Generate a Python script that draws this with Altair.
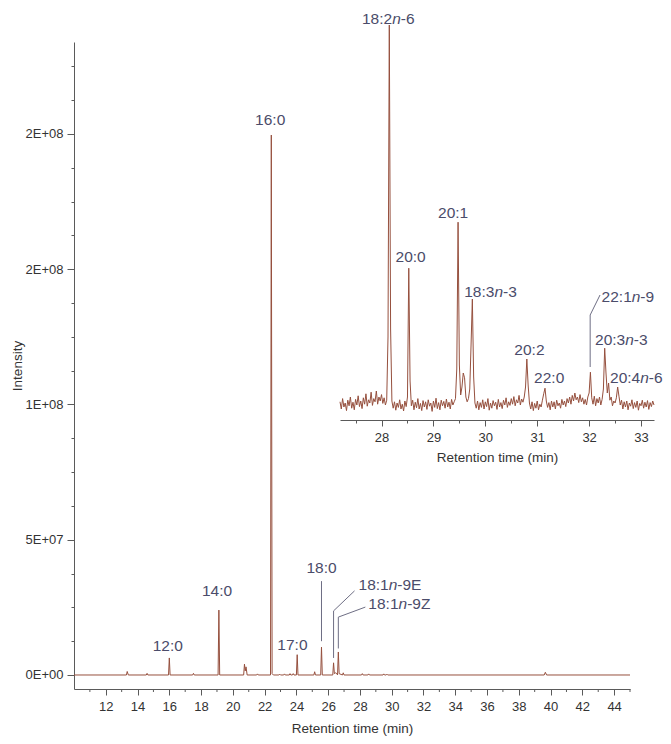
import altair as alt
import pandas as pd

# ---------------- data ----------------
# main chromatogram trace (retention time in min, intensity in counts)
main_time = [10.00,
             13.30, 13.35, 13.42,
             14.55, 14.60, 14.65,
             15.95, 16.00, 16.05,
             17.47, 17.52, 17.57,
             19.07, 19.12, 19.17,
             20.68, 20.73, 20.78, 20.83, 20.90,
             21.50, 21.55, 21.60,
             22.37, 22.42, 22.47, 22.55,
             22.90, 22.95, 23.00, 23.20, 23.25, 23.30,
             23.55, 23.60, 23.65, 23.75, 23.80, 23.85,
             24.00, 24.05, 24.10,
             25.10, 25.15, 25.20,
             25.53, 25.58, 25.63,
             26.29, 26.34, 26.39, 26.45, 26.55,
             26.59, 26.64, 26.69,
             26.90, 26.95, 27.00,
             28.10, 28.15, 28.20,
             28.50, 28.55, 28.60,
             29.45, 29.50, 29.55, 29.65, 29.70, 29.75,
             39.60, 39.67, 39.75,
             45.00]
main_intensity = [0,
                  0, 1.3e6, 0,
                  0, 0.6e6, 0,
                  0, 6.3e6, 0,
                  0, 0.6e6, 0,
                  0, 24.0e6, 0,
                  0, 4.0e6, 1.5e6, 3.0e6, 0,
                  0, 0.4e6, 0,
                  0, 199.6e6, 0.5e6, 0,
                  0, 0.3e6, 0, 0, 0.4e6, 0,
                  0, 0.5e6, 0, 0, 0.5e6, 0,
                  0, 7.5e6, 0,
                  0, 1.2e6, 0,
                  0, 10.3e6, 0,
                  0, 4.5e6, 0.5e6, 0.8e6, 0.5e6,
                  0, 8.5e6, 0.5e6,
                  0, 0.8e6, 0,
                  0, 0.5e6, 0,
                  0, 0.4e6, 0,
                  0, 0.4e6, 0, 0, 0.3e6, 0,
                  0, 1.0e6, 0,
                  0]

# inset trace (retention time in min, intensity in thousand counts)
inset_time = [27.200, 27.225, 27.250, 27.275, 27.300, 27.325, 27.350, 27.375, 27.400, 27.425,
              27.450, 27.475, 27.500, 27.525, 27.550, 27.575, 27.600, 27.625, 27.650, 27.675,
              27.700, 27.725, 27.750, 27.775, 27.800, 27.825, 27.850, 27.875, 27.900, 27.925,
              27.950, 27.975, 28.000, 28.025, 28.050, 28.075, 28.100, 28.125, 28.150, 28.175,
              28.200, 28.225, 28.250, 28.275, 28.300, 28.325, 28.350, 28.375, 28.400, 28.425,
              28.450, 28.475, 28.500, 28.525, 28.550, 28.575, 28.600, 28.625, 28.650, 28.675,
              28.700, 28.725, 28.750, 28.775, 28.800, 28.825, 28.850, 28.875, 28.900, 28.925,
              28.950, 28.975, 29.000, 29.025, 29.050, 29.075, 29.100, 29.125, 29.150, 29.175,
              29.200, 29.225, 29.250, 29.275, 29.300, 29.325, 29.350, 29.375, 29.400, 29.425,
              29.450, 29.475, 29.500, 29.525, 29.550, 29.575, 29.600, 29.625, 29.650, 29.675,
              29.700, 29.725, 29.750, 29.775, 29.800, 29.825, 29.850, 29.875, 29.900, 29.925,
              29.950, 29.975, 30.000, 30.025, 30.050, 30.075, 30.100, 30.125, 30.150, 30.175,
              30.200, 30.225, 30.250, 30.275, 30.300, 30.325, 30.350, 30.375, 30.400, 30.425,
              30.450, 30.475, 30.500, 30.525, 30.550, 30.575, 30.600, 30.625, 30.650, 30.675,
              30.700, 30.725, 30.750, 30.775, 30.800, 30.825, 30.850, 30.875, 30.900, 30.925,
              30.950, 30.975, 31.000, 31.025, 31.050, 31.075, 31.100, 31.125, 31.150, 31.175,
              31.200, 31.225, 31.250, 31.275, 31.300, 31.325, 31.350, 31.375, 31.400, 31.425,
              31.450, 31.475, 31.500, 31.525, 31.550, 31.575, 31.600, 31.625, 31.650, 31.675,
              31.700, 31.725, 31.750, 31.775, 31.800, 31.825, 31.850, 31.875, 31.900, 31.925,
              31.950, 31.975, 32.000, 32.025, 32.050, 32.075, 32.100, 32.125, 32.150, 32.175,
              32.200, 32.225, 32.250, 32.275, 32.300, 32.325, 32.350, 32.375, 32.400, 32.425,
              32.450, 32.475, 32.500, 32.525, 32.550, 32.575, 32.600, 32.625, 32.650, 32.675,
              32.700, 32.725, 32.750, 32.775, 32.800, 32.825, 32.850, 32.875, 32.900, 32.925,
              32.950, 32.975, 33.000, 33.025, 33.050, 33.075, 33.100, 33.125, 33.150, 33.175,
              33.200, 33.225, 33.250]
inset_kcounts = [58, 40, 66, 45, 55, 36, 62, 48, 70, 42,
                 57, 38, 64, 50, 73, 46, 60, 41, 68, 52,
                 78, 47, 63, 55, 82, 49, 66, 58, 85, 52,
                 70, 60, 76, 54, 68, 50, 62, 220, 1000, 240,
                 60, 42, 58, 37, 55, 44, 63, 40, 52, 35,
                 60, 46, 70, 392, 110, 48, 62, 38, 57, 43,
                 66, 40, 54, 36, 61, 45, 58, 39, 63, 47,
                 55, 34, 60, 44, 67, 41, 56, 38, 62, 48,
                 59, 42, 65, 45, 57, 40, 64, 50, 58, 66,
                 140, 507, 150, 75, 95, 130, 118, 70, 58, 66,
                 90, 200, 315, 120, 55, 42, 60, 38, 56, 44,
                 63, 40, 58, 46, 66, 37, 55, 42, 61, 48,
                 57, 39, 64, 45, 56, 41, 62, 50, 68, 44,
                 58, 49, 66, 52, 71, 48, 63, 55, 74, 50,
                 65, 57, 70, 95, 165, 100, 55, 40, 58, 36,
                 54, 42, 60, 38, 52, 45, 62, 78, 92, 60,
                 44, 56, 38, 60, 45, 58, 40, 62, 48, 55,
                 42, 64, 50, 60, 46, 66, 55, 70, 52, 74,
                 60, 80, 63, 70, 56, 76, 58, 68, 52, 64,
                 50, 70, 80, 132, 68, 52, 72, 48, 66, 55,
                 70, 50, 64, 90, 192, 130, 80, 105, 62, 70,
                 48, 60, 55, 68, 95, 72, 50, 62, 40, 58,
                 45, 60, 38, 55, 47, 63, 41, 56, 44, 60,
                 37, 54, 48, 62, 42, 57, 45, 61, 39, 56,
                 46, 60, 50]

# peak labels, main chart
main_label_text = ["12:0", "14:0", "16:0", "17:0", "18:0", "18:1n-9E", "18:1n-9Z"]
main_label_time = [15.9, 19.0, 22.35, 23.75, 25.58, 27.91, 28.53]
main_label_int = [10.7e6, 31.1e6, 205.2e6, 11.1e6, 39.6e6, 33.3e6, 26.2e6]
main_label_align = ["center", "center", "center", "center", "center", "left", "left"]

# leader lines, main chart (segments)
main_leader_t1 = [25.58, 26.34, 26.34, 26.64, 26.64]
main_leader_v1 = [12.5e6, 6.3e6, 23.7e6, 9.8e6, 21.4e6]
main_leader_t2 = [25.58, 26.34, 27.66, 26.64, 28.34]
main_leader_v2 = [34.7e6, 23.7e6, 31.1e6, 21.4e6, 25.1e6]

# peak labels, inset
inset_label_text = ["18:2n-6", "20:0", "20:1", "18:3n-3", "20:2", "22:0",
                    "22:1n-9", "20:3n-3", "20:4n-6"]
inset_label_time = [28.13, 28.56, 29.38, 30.10, 30.85, 31.23, 32.24, 32.62, 32.91]
inset_label_k = [1015, 420, 530, 332.5, 187.5, 117.5, 320, 212.5, 117.5]
inset_label_align = ["center", "center", "center", "center", "center", "center",
                     "left", "center", "center"]

# leader line, inset (segments)
inset_leader_t1 = [32.02, 32.02]
inset_leader_k1 = [145, 275]
inset_leader_t2 = [32.02, 32.21]
inset_leader_k2 = [275, 325]

# axis ticks
y_tick_values = [0, 5e7, 1e8, 1.5e8, 2e8]
y_tick_labels = ["0E+00", "5E+07", "1E+08", "2E+08", "2E+08"]
x_tick_labels = [12, 14, 16, 18, 20, 22, 24, 26, 28, 30, 32, 34, 36, 38, 40, 42, 44]
x_minor_ticks = [11, 13, 15, 17, 19, 21, 23, 25, 27, 29, 31, 33, 35, 37, 39, 41, 43, 45]
inset_tick_labels = [28, 29, 30, 31, 32, 33]

# ---------------- styling ----------------
FONT = "Liberation Sans"
LINE = "#96503e"
ANN = "#4b4c6a"
LEAD = "#6e6e84"
AXC = "#5a5a5a"
FS = 15.5
W, H = 556, 647
TOP = 34

CW = {c: 0.556 for c in "0123456789"}
CW.update({":": 0.278, "-": 0.333, "n": 0.556, "E": 0.667, "Z": 0.611})


def tw(s):
    return sum(CW[c] for c in s) * FS


def expr_for(values, labels):
    return "".join(
        f"abs(datum.value - {v}) < 1e-6 * (1 + abs({v})) ? '{l}' : "
        for v, l in zip(values, labels)) + "''"


# ---------------- shared encodings ----------------
main_x = lambda f="t": alt.X(
    f"{f}:Q", title="Retention time (min)",
    scale=alt.Scale(domain=[10, 45], nice=False, zero=False),
    axis=alt.Axis(values=x_tick_labels, format="d", tickSize=6,
                  labelOverlap=False, labelFlush=False,
                  labelPadding=5, titlePadding=8, grid=False))
main_y = lambda f="v": alt.Y(
    f"{f}:Q", title="Intensity",
    scale=alt.Scale(domain=[-5.18e6, 234e6], nice=False, zero=False),
    axis=alt.Axis(values=[i * 12.5e6 for i in range(19)],
                  labelExpr=expr_for(y_tick_values, y_tick_labels),
                  tickSize={"condition": {"test": "datum.value % 50000000 == 0",
                                          "value": 7}, "value": 3},
                  labelOverlap=False, labelFlush=False,
                  labelPadding=4, titlePadding=1, grid=False))
inset_axis_y = 420 - 8 - TOP  # plot-relative position of the inset axis
inset_x = lambda f="t": alt.X(
    f"{f}:Q", title="Retention time (min)",
    scale=alt.Scale(domain=[27.2, 33.25], range=[266, 580], nice=False, zero=False),
    axis=alt.Axis(values=[27.5 + 0.5 * i for i in range(12)],
                  labelExpr=expr_for(inset_tick_labels, [str(v) for v in inset_tick_labels]),
                  tickSize={"condition": {"test": "datum.value % 1 == 0", "value": 6},
                            "value": 3},
                  orient="bottom", offset=inset_axis_y - H,
                  labelOverlap=False, labelFlush=False,
                  labelPadding=5, titlePadding=6, grid=False))
inset_y = lambda f="v": alt.Y(
    f"{f}:Q", scale=alt.Scale(domain=[0, 1000], range=[425 - 8 - TOP, 25 - 8 - TOP],
                              nice=False, zero=False),
    axis=None)


def label_layers(texts, times, vals, aligns, xe, ye):
    layers = []
    for txt, t, v, al in zip(texts, times, vals, aligns):
        df = pd.DataFrame({"t": [t], "v": [v]})
        base = alt.Chart(df).encode(x=xe(), y=ye())
        if "n-" in txt:
            i = txt.index("n-")
            pre, it, post = txt[:i], "n", txt[i + 1:]
            total = tw(pre) + tw(it) + tw(post)
            start = -total / 2 if al == "center" else 0
            parts = [(pre, start, "normal"),
                     (it, start + tw(pre), "italic"),
                     (post, start + tw(pre) + tw(it), "normal")]
            for s, dx, st in parts:
                layers.append(base.mark_text(
                    text=s, align="left", baseline="middle", dx=dx,
                    font=FONT, fontSize=FS, fontStyle=st, color=ANN))
        else:
            layers.append(base.mark_text(
                text=txt, align=al, baseline="middle",
                font=FONT, fontSize=FS, color=ANN))
    return layers


# ---------------- main chart ----------------
main_df = pd.DataFrame({"t": main_time, "v": main_intensity})
main_line = alt.Chart(main_df).mark_line(color=LINE, strokeWidth=1).encode(
    x=main_x(), y=main_y())
minor_df = pd.DataFrame({"t": x_minor_ticks})
main_minor = alt.Chart(minor_df).mark_rule(color=AXC, strokeWidth=1).encode(
    x=main_x(), y=alt.value(H), y2=alt.value(H + 3))
lead_df = pd.DataFrame({"t": main_leader_t1, "v": main_leader_v1,
                        "t2": main_leader_t2, "v2": main_leader_v2})
main_lead = alt.Chart(lead_df).mark_rule(color=LEAD, strokeWidth=1).encode(
    x=main_x(), y=main_y(), x2="t2:Q", y2="v2:Q")
main_layer = alt.layer(main_line, main_minor, main_lead,
                       *label_layers(main_label_text, main_label_time,
                                     main_label_int, main_label_align, main_x, main_y))

# ---------------- inset ----------------
inset_df = pd.DataFrame({"t": inset_time, "v": inset_kcounts})
inset_line = alt.Chart(inset_df).mark_line(color=LINE, strokeWidth=1).encode(
    x=inset_x(), y=inset_y())
ilead_df = pd.DataFrame({"t": inset_leader_t1, "v": inset_leader_k1,
                         "t2": inset_leader_t2, "v2": inset_leader_k2})
inset_lead = alt.Chart(ilead_df).mark_rule(color=LEAD, strokeWidth=1).encode(
    x=inset_x(), y=inset_y(), x2="t2:Q", y2="v2:Q")
inset_layer = alt.layer(inset_line, inset_lead,
                        *label_layers(inset_label_text, inset_label_time, inset_label_k,
                                      inset_label_align, inset_x, inset_y))

chart = alt.layer(main_layer, inset_layer).resolve_scale(
    x="independent", y="independent"
).properties(
    width=W, height=H,
    autosize=alt.AutoSizeParams(type="none"),
    padding={"left": 66, "top": TOP, "right": 33, "bottom": 47},
).configure_axis(
    labelFont=FONT, titleFont=FONT, labelFontSize=13, titleFontSize=13.5,
    labelColor="#333333", titleColor="#333333", titleFontWeight="normal",
    domainColor=AXC, tickColor=AXC, domainWidth=1, tickWidth=1,
    labelOverlap=False,
).configure_view(stroke=None)

chart.save("out.html", embed_options={"renderer": "svg", "actions": False})
